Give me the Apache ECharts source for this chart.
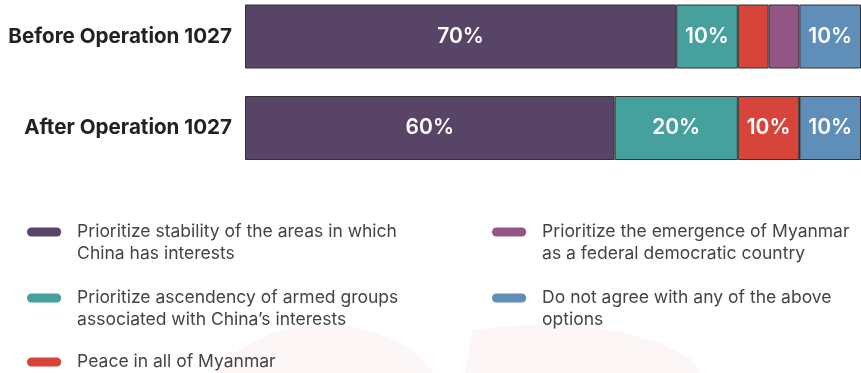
<!DOCTYPE html>
<html><head><meta charset="utf-8">
<script src="https://cdn.jsdelivr.net/npm/echarts@6/dist/echarts.min.js"></script>
<style>html,body{margin:0;padding:0;background:#fff}#c{width:861px;height:373px}</style>
</head><body><div id="c"></div>
<script>
const categories = ['Before Operation 1027', 'After Operation 1027'];
const seriesNames = [
  'Prioritize stability of the areas in which China has interests',
  'Prioritize ascendency of armed groups associated with China\'s interests',
  'Peace in all of Myanmar',
  'Prioritize the emergence of Myanmar as a federal democratic country',
  'Do not agree with any of the above options'
];
const legendLabels = [
  'Prioritize stability of the areas in which\nChina has interests',
  'Prioritize ascendency of armed groups\nassociated with China\u2019s interests',
  'Peace in all of Myanmar',
  'Prioritize the emergence of Myanmar\nas a federal democratic country',
  'Do not agree with any of the above\noptions'
];
const stability = [70, 60];
const armedGroups = [10, 20];
const peace = [5, 10];
const federal = [5, 0];
const noneOfAbove = [10, 10];
const colors = ['#574466', '#45a09e', '#d6443a', '#935584', '#5f8eb9'];
const values = [stability, armedGroups, peace, federal, noneOfAbove];

const legendPos = [
  {left: 27, cy: 232},
  {left: 27, cy: 298},
  {left: 27, cy: 362},
  {left: 492, cy: 232},
  {left: 492, cy: 298}
];
const LH = 22;
const legends = seriesNames.map((n, i) => {
  const p = legendPos[i];
  const label = legendLabels[i];
  const multi = label.indexOf('\n') >= 0;
  const boxH = multi ? 3 * LH : LH;
  return {
    data: [n],
    left: p.left,
    top: p.cy - boxH / 2,
    padding: 0,
    itemWidth: 38,
    itemHeight: 9,
    icon: 'path://M5,0 H33 A5,5 0 0 1 33,10 H5 A5,5 0 0 1 5,0 Z',
    itemStyle: {borderWidth: 0},
    selectedMode: false,
    formatter: () => multi ? '\n' + label : label,
    textStyle: {fontFamily: 'Inter', fontSize: 17.5, color: '#444', lineHeight: LH, padding: [0, 0, 0, 9]}
  };
});

const chart = echarts.init(document.getElementById('c'), null, {renderer: 'canvas'});
chart.setOption({
  animation: false,
  backgroundColor: '#fff',
  graphic: [
    {type: 'ellipse', z: -10, silent: true, shape: {cx: 325, cy: 405, rx: 118, ry: 80}, style: {fill: '#fdf6f7'}},
    {type: 'polygon', z: -10, silent: true, shape: {points: [[465, 373], [472, 330], [520, 325], [570, 325], [620, 331], [660, 343], [690, 358], [702, 373]]}, style: {fill: '#fdf6f7'}}
  ],
  grid: {left: 245, right: 0, top: 36.5, height: 91.5, containLabel: false},
  xAxis: {type: 'value', min: 0, max: 100, show: false},
  yAxis: {
    type: 'category', data: categories, inverse: true, boundaryGap: false,
    axisLine: {show: false}, axisTick: {show: false}, splitLine: {show: false},
    axisLabel: {fontFamily: 'Inter', fontWeight: 'bold', fontSize: 20.6, color: '#222', margin: 13}
  },
  legend: legends,
  series: seriesNames.map((n, i) => ({
    name: n, type: 'bar', stack: 'all', data: values[i],
    barWidth: 64,
    itemStyle: {color: colors[i], borderColor: '#333', borderWidth: 1},
    label: {
      show: true, position: 'inside', color: '#fff', fontFamily: 'Inter',
      fontWeight: 600, fontSize: 21,
      formatter: (p) => p.value >= 10 ? p.value + '%' : ''
    }
  }))
});
</script></body></html>
